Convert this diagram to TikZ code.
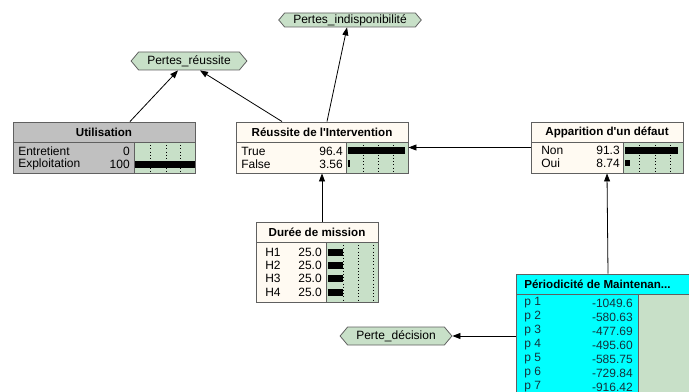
\documentclass[tikz,border=0pt]{standalone}
\usepackage{fontspec}
\setmainfont{Liberation Sans}[Ligatures=TeXOff]
\usepackage{tikz}
\usetikzlibrary{arrows.meta,shapes.symbols,fit,calc}
\definecolor{panelgreen}{RGB}{200,224,200}
\definecolor{cream}{RGB}{255,250,242}
\definecolor{boxgray}{RGB}{192,192,192}
\definecolor{edgegray}{RGB}{96,96,96}
\definecolor{decision}{RGB}{0,255,255}
\definecolor{decisiontext}{RGB}{20,50,60}

\tikzset{
  frame/.style={draw=edgegray, line width=0.7pt, inner sep=0pt, fit={#1}},
  edgeline/.style={draw=edgegray, line width=0.6pt},
  gridline/.style={dotted, line width=0.4pt},
  link/.style={->, line width=0.6pt},
  boxtitle/.style={font=\fontsize{8.7}{10}\selectfont\bfseries},
  utility/.style={signal, signal to=west and east, signal pointer angle=100,
    draw=edgegray, fill=panelgreen, line width=0.6pt, inner xsep=6.5pt}
}

\begin{document}
\begin{tikzpicture}[x=0.75pt, y=-0.75pt, >={Triangle[length=6pt,width=4.5pt]},
    font=\fontsize{9}{10.8}\selectfont, every node/.style={inner sep=0pt}]
    \useasboundingbox (0,0) rectangle (689,392);
    \clip (0,0) rectangle (689,392);

    % Utility nodes
    \node[utility, minimum height=10.5pt] (pindispo) at (350,20) {Pertes\_indisponibilité};
    \node[utility, minimum height=13.5pt] (preussite) at (189,61) {Pertes\_réussite};
    \node[utility, minimum height=13.5pt] (pdecision) at (396,336) {Perte\_décision};

    % Utilisation
    \fill[boxgray] (13,122) rectangle (195,142);
    \fill[boxgray] (13,142) rectangle (134,173);
    \fill[panelgreen] (134,142) rectangle (195,173);
    \foreach \x in {150,166,180} \draw[gridline] (\x,142) -- (\x,173);
    \fill (134,161) rectangle (195,168);
    \draw[edgeline] (13,142) -- (195,142) (134,142) -- (134,173);
    \node[frame={(13,122) (195,173)}] (utilisation) {};
    \node[boxtitle] (utilisation-t) at (104,132) {Utilisation};
    \node[anchor=west] (u1) at (18,151) {Entretient};
    \node[anchor=east] (u1v) at (130,151) {0};
    \node[anchor=west] (u2) at (18,164) {Exploitation};
    \node[anchor=east] (u2v) at (130,164) {100};

    % Reussite de l'Intervention
    \fill[cream] (236,122) rectangle (408,142);
    \fill[cream] (236,142) rectangle (346,173);
    \fill[panelgreen] (346,142) rectangle (408,173);
    \foreach \x in {363,378,393} \draw[gridline] (\x,142) -- (\x,173);
    \fill (348,147) rectangle (405,154);
    \fill (348,160) rectangle (350,167);
    \draw[edgeline] (236,142) -- (408,142) (346,142) -- (346,173);
    \node[frame={(236,122) (408,173)}] (reussite) {};
    \node[boxtitle] (reussite-t) at (322,132) {Réussite de l'Intervention};
    \node[anchor=west] (r1) at (241,151) {True};
    \node[anchor=east] (r1v) at (343,151) {96.4};
    \node[anchor=west] (r2) at (241,164) {False};
    \node[anchor=east] (r2v) at (343,164) {3.56};

    % Apparition d'un defaut
    \fill[cream] (531,122) rectangle (683,142);
    \fill[cream] (531,142) rectangle (623,173);
    \fill[panelgreen] (623,142) rectangle (683,173);
    \foreach \x in {639,655,670} \draw[gridline] (\x,142) -- (\x,173);
    \fill (625,147) rectangle (678,154);
    \fill (625,160) rectangle (630,166);
    \draw[edgeline] (531,142) -- (683,142) (623,142) -- (623,173);
    \node[frame={(531,122) (683,173)}] (apparition) {};
    \node[boxtitle] (apparition-t) at (607,132) {Apparition d'un défaut};
    \node[anchor=west] (a1) at (541,150) {Non};
    \node[anchor=east] (a1v) at (620,150) {91.3};
    \node[anchor=west] (a2) at (541,163) {Oui};
    \node[anchor=east] (a2v) at (620,163) {8.74};

    % Duree de mission
    \fill[cream] (256,222) rectangle (378,242);
    \fill[cream] (256,242) rectangle (326,302);
    \fill[panelgreen] (326,242) rectangle (378,302);
    \foreach \x in {343,358,373} \draw[gridline] (\x,242) -- (\x,302);
    \foreach \h [count=\k from 0] in {1,...,4} {
        \fill (328,{248.5+13.4*\k}) rectangle (343,{255.5+13.4*\k});
        \node[anchor=west] (h\h) at (265,{252+13.4*\k}) {H\h};
        \node[anchor=east] (h\h v) at (322,{252+13.4*\k}) {25.0};
    }
    \draw[edgeline] (256,242) -- (378,242) (326,242) -- (326,302);
    \node[frame={(256,222) (378,302)}] (duree) {};
    \node[boxtitle] (duree-t) at (317,232) {Durée de mission};

    % Periodicite de Maintenance (decision)
    \fill[decision] (516,274) rectangle (638,398);
    \fill[decision] (516,274) rectangle (700,294);
    \fill[panelgreen] (638,294) rectangle (700,398);
    \foreach \i/\v [count=\k from 0] in {1/-1049.6, 2/-580.63, 3/-477.69, 4/-495.60,
        5/-585.75, 6/-729.84, 7/-916.42} {
        \node[anchor=west, text=decisiontext] (p\i) at (524,{303+14*\k}) {p \i};
        \node[anchor=east, text=decisiontext] (p\i v) at (633,{303+14*\k}) {\v};
    }
    \draw[edgeline] (516,294) -- (700,294) (638,294) -- (638,398);
    \node[frame={(516,274) (700,398)}] (periodicite) {};
    \node[boxtitle, anchor=west] (periodicite-t) at (524,284) {Périodicité de Maintenan...};

    % Links
    \draw[link] ($(utilisation.north)+(26,0)$) -- ($(preussite.south)+(-11,0)$);
    \draw[link] ($(reussite.north)+(-40,0)$) -- ($(preussite.south)+(11,0)$);
    \draw[link] ($(reussite.north)+(5,0)$) -- ($(pindispo.south)+(-3,0)$);
    \draw[link] (apparition.west) -- (reussite.east);
    \draw[link] ($(duree.north)+(5,0)$) -- (reussite.south);
    \draw[link] (periodicite.north) -- (apparition.south);
    \draw[link] (periodicite.west) -- (pdecision.east);
\end{tikzpicture}
\end{document}
